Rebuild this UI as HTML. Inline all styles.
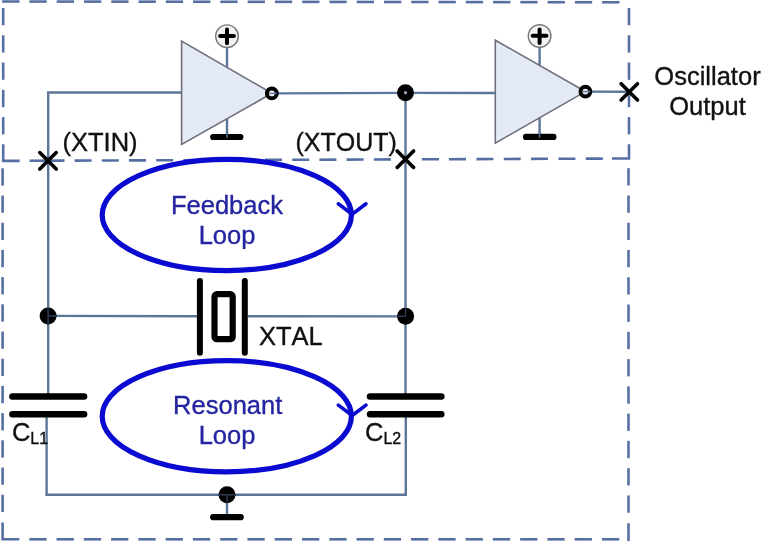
<!DOCTYPE html>
<html><head><meta charset="utf-8"><style>
html,body{margin:0;padding:0;background:#fff;}
svg{display:block;filter:blur(0.35px);} svg text{will-change:transform;} text{font-kerning:none;}
</style></head><body>
<svg width="768" height="541" viewBox="0 0 768 541">
<rect width="768" height="541" fill="#fff"/>
<line x1="2.20" y1="1.50" x2="19.50" y2="1.50" stroke="#566fa3" stroke-width="2.6" stroke-linecap="butt"/>
<line x1="29.47" y1="1.54" x2="46.77" y2="1.54" stroke="#566fa3" stroke-width="2.6" stroke-linecap="butt"/>
<line x1="56.74" y1="1.57" x2="74.04" y2="1.57" stroke="#566fa3" stroke-width="2.6" stroke-linecap="butt"/>
<line x1="84.01" y1="1.61" x2="101.31" y2="1.61" stroke="#566fa3" stroke-width="2.6" stroke-linecap="butt"/>
<line x1="111.28" y1="1.64" x2="128.58" y2="1.64" stroke="#566fa3" stroke-width="2.6" stroke-linecap="butt"/>
<line x1="138.55" y1="1.68" x2="155.85" y2="1.68" stroke="#566fa3" stroke-width="2.6" stroke-linecap="butt"/>
<line x1="165.82" y1="1.71" x2="183.12" y2="1.71" stroke="#566fa3" stroke-width="2.6" stroke-linecap="butt"/>
<line x1="193.09" y1="1.75" x2="210.39" y2="1.75" stroke="#566fa3" stroke-width="2.6" stroke-linecap="butt"/>
<line x1="220.36" y1="1.78" x2="237.66" y2="1.78" stroke="#566fa3" stroke-width="2.6" stroke-linecap="butt"/>
<line x1="247.63" y1="1.81" x2="264.93" y2="1.81" stroke="#566fa3" stroke-width="2.6" stroke-linecap="butt"/>
<line x1="274.90" y1="1.85" x2="292.20" y2="1.85" stroke="#566fa3" stroke-width="2.6" stroke-linecap="butt"/>
<line x1="302.17" y1="1.88" x2="319.47" y2="1.88" stroke="#566fa3" stroke-width="2.6" stroke-linecap="butt"/>
<line x1="329.44" y1="1.92" x2="346.74" y2="1.92" stroke="#566fa3" stroke-width="2.6" stroke-linecap="butt"/>
<line x1="356.71" y1="1.95" x2="374.01" y2="1.95" stroke="#566fa3" stroke-width="2.6" stroke-linecap="butt"/>
<line x1="383.98" y1="1.99" x2="401.28" y2="1.99" stroke="#566fa3" stroke-width="2.6" stroke-linecap="butt"/>
<line x1="411.25" y1="2.02" x2="428.55" y2="2.02" stroke="#566fa3" stroke-width="2.6" stroke-linecap="butt"/>
<line x1="438.52" y1="2.06" x2="455.82" y2="2.06" stroke="#566fa3" stroke-width="2.6" stroke-linecap="butt"/>
<line x1="465.79" y1="2.09" x2="483.09" y2="2.09" stroke="#566fa3" stroke-width="2.6" stroke-linecap="butt"/>
<line x1="493.06" y1="2.13" x2="510.36" y2="2.13" stroke="#566fa3" stroke-width="2.6" stroke-linecap="butt"/>
<line x1="520.33" y1="2.16" x2="537.63" y2="2.16" stroke="#566fa3" stroke-width="2.6" stroke-linecap="butt"/>
<line x1="547.60" y1="2.20" x2="564.90" y2="2.20" stroke="#566fa3" stroke-width="2.6" stroke-linecap="butt"/>
<line x1="574.87" y1="2.23" x2="592.17" y2="2.23" stroke="#566fa3" stroke-width="2.6" stroke-linecap="butt"/>
<line x1="602.14" y1="2.27" x2="619.44" y2="2.27" stroke="#566fa3" stroke-width="2.6" stroke-linecap="butt"/>
<line x1="3.20" y1="8.00" x2="3.20" y2="25.30" stroke="#566fa3" stroke-width="2.6" stroke-linecap="butt"/>
<line x1="3.20" y1="35.27" x2="3.20" y2="52.57" stroke="#566fa3" stroke-width="2.6" stroke-linecap="butt"/>
<line x1="3.20" y1="62.54" x2="3.20" y2="79.84" stroke="#566fa3" stroke-width="2.6" stroke-linecap="butt"/>
<line x1="3.20" y1="89.81" x2="3.20" y2="107.11" stroke="#566fa3" stroke-width="2.6" stroke-linecap="butt"/>
<line x1="3.20" y1="117.08" x2="3.20" y2="134.38" stroke="#566fa3" stroke-width="2.6" stroke-linecap="butt"/>
<polyline points="3.20,144.30 3.20,160.90 19.70,160.90" fill="none" stroke="#566fa3" stroke-width="2.6" stroke-linejoin="miter" stroke-linecap="butt"/>
<line x1="629.00" y1="8.00" x2="629.00" y2="25.30" stroke="#566fa3" stroke-width="2.6" stroke-linecap="butt"/>
<line x1="629.00" y1="35.27" x2="629.00" y2="52.57" stroke="#566fa3" stroke-width="2.6" stroke-linecap="butt"/>
<line x1="629.00" y1="62.54" x2="629.00" y2="79.84" stroke="#566fa3" stroke-width="2.6" stroke-linecap="butt"/>
<line x1="629.00" y1="89.81" x2="629.00" y2="107.11" stroke="#566fa3" stroke-width="2.6" stroke-linecap="butt"/>
<line x1="629.00" y1="117.08" x2="629.00" y2="134.38" stroke="#566fa3" stroke-width="2.6" stroke-linecap="butt"/>
<polyline points="612.00,158.50 629.00,158.50 629.00,144.30" fill="none" stroke="#566fa3" stroke-width="2.6" stroke-linejoin="miter" stroke-linecap="butt"/>
<line x1="29.60" y1="160.80" x2="64.50" y2="160.66" stroke="#566fa3" stroke-width="2.6" stroke-linecap="butt"/>
<line x1="74.60" y1="160.63" x2="91.60" y2="160.56" stroke="#566fa3" stroke-width="2.6" stroke-linecap="butt"/>
<line x1="101.80" y1="160.52" x2="118.80" y2="160.46" stroke="#566fa3" stroke-width="2.6" stroke-linecap="butt"/>
<line x1="129.00" y1="160.42" x2="146.00" y2="160.35" stroke="#566fa3" stroke-width="2.6" stroke-linecap="butt"/>
<line x1="156.20" y1="160.31" x2="173.20" y2="160.25" stroke="#566fa3" stroke-width="2.6" stroke-linecap="butt"/>
<line x1="183.40" y1="160.21" x2="200.40" y2="160.14" stroke="#566fa3" stroke-width="2.6" stroke-linecap="butt"/>
<line x1="210.60" y1="160.10" x2="227.60" y2="160.04" stroke="#566fa3" stroke-width="2.6" stroke-linecap="butt"/>
<line x1="237.80" y1="160.00" x2="254.80" y2="159.93" stroke="#566fa3" stroke-width="2.6" stroke-linecap="butt"/>
<line x1="265.00" y1="159.90" x2="282.00" y2="159.83" stroke="#566fa3" stroke-width="2.6" stroke-linecap="butt"/>
<line x1="292.20" y1="159.79" x2="309.20" y2="159.73" stroke="#566fa3" stroke-width="2.6" stroke-linecap="butt"/>
<line x1="319.40" y1="159.69" x2="336.40" y2="159.62" stroke="#566fa3" stroke-width="2.6" stroke-linecap="butt"/>
<line x1="346.60" y1="159.58" x2="363.60" y2="159.52" stroke="#566fa3" stroke-width="2.6" stroke-linecap="butt"/>
<line x1="373.80" y1="159.48" x2="390.80" y2="159.41" stroke="#566fa3" stroke-width="2.6" stroke-linecap="butt"/>
<line x1="421.90" y1="159.29" x2="439.00" y2="159.23" stroke="#566fa3" stroke-width="2.6" stroke-linecap="butt"/>
<line x1="448.90" y1="159.19" x2="466.00" y2="159.12" stroke="#566fa3" stroke-width="2.6" stroke-linecap="butt"/>
<line x1="476.50" y1="159.08" x2="493.40" y2="159.02" stroke="#566fa3" stroke-width="2.6" stroke-linecap="butt"/>
<line x1="503.80" y1="158.98" x2="520.70" y2="158.92" stroke="#566fa3" stroke-width="2.6" stroke-linecap="butt"/>
<line x1="531.10" y1="158.88" x2="548.00" y2="158.81" stroke="#566fa3" stroke-width="2.6" stroke-linecap="butt"/>
<line x1="558.50" y1="158.77" x2="575.40" y2="158.71" stroke="#566fa3" stroke-width="2.6" stroke-linecap="butt"/>
<line x1="585.80" y1="158.67" x2="602.80" y2="158.60" stroke="#566fa3" stroke-width="2.6" stroke-linecap="butt"/>
<line x1="2.60" y1="168.30" x2="2.60" y2="185.60" stroke="#566fa3" stroke-width="2.6" stroke-linecap="butt"/>
<line x1="2.60" y1="195.50" x2="2.60" y2="212.80" stroke="#566fa3" stroke-width="2.6" stroke-linecap="butt"/>
<line x1="2.60" y1="222.70" x2="2.60" y2="240.00" stroke="#566fa3" stroke-width="2.6" stroke-linecap="butt"/>
<line x1="2.60" y1="249.90" x2="2.60" y2="267.20" stroke="#566fa3" stroke-width="2.6" stroke-linecap="butt"/>
<line x1="2.60" y1="277.10" x2="2.60" y2="294.40" stroke="#566fa3" stroke-width="2.6" stroke-linecap="butt"/>
<line x1="2.60" y1="304.30" x2="2.60" y2="321.60" stroke="#566fa3" stroke-width="2.6" stroke-linecap="butt"/>
<line x1="2.60" y1="331.50" x2="2.60" y2="348.80" stroke="#566fa3" stroke-width="2.6" stroke-linecap="butt"/>
<line x1="2.60" y1="358.70" x2="2.60" y2="376.00" stroke="#566fa3" stroke-width="2.6" stroke-linecap="butt"/>
<line x1="2.60" y1="385.90" x2="2.60" y2="403.20" stroke="#566fa3" stroke-width="2.6" stroke-linecap="butt"/>
<line x1="2.60" y1="413.10" x2="2.60" y2="430.40" stroke="#566fa3" stroke-width="2.6" stroke-linecap="butt"/>
<line x1="2.60" y1="440.30" x2="2.60" y2="457.60" stroke="#566fa3" stroke-width="2.6" stroke-linecap="butt"/>
<line x1="2.60" y1="467.50" x2="2.60" y2="484.80" stroke="#566fa3" stroke-width="2.6" stroke-linecap="butt"/>
<line x1="2.60" y1="494.70" x2="2.60" y2="512.00" stroke="#566fa3" stroke-width="2.6" stroke-linecap="butt"/>
<polyline points="2.60,522.50 2.60,539.30 19.30,539.30" fill="none" stroke="#566fa3" stroke-width="2.6" stroke-linejoin="miter" stroke-linecap="butt"/>
<line x1="628.50" y1="168.20" x2="628.50" y2="185.50" stroke="#566fa3" stroke-width="2.6" stroke-linecap="butt"/>
<line x1="628.50" y1="195.47" x2="628.50" y2="212.77" stroke="#566fa3" stroke-width="2.6" stroke-linecap="butt"/>
<line x1="628.50" y1="222.74" x2="628.50" y2="240.04" stroke="#566fa3" stroke-width="2.6" stroke-linecap="butt"/>
<line x1="628.50" y1="250.01" x2="628.50" y2="267.31" stroke="#566fa3" stroke-width="2.6" stroke-linecap="butt"/>
<line x1="628.50" y1="277.28" x2="628.50" y2="294.58" stroke="#566fa3" stroke-width="2.6" stroke-linecap="butt"/>
<line x1="628.50" y1="304.55" x2="628.50" y2="321.85" stroke="#566fa3" stroke-width="2.6" stroke-linecap="butt"/>
<line x1="628.50" y1="331.82" x2="628.50" y2="349.12" stroke="#566fa3" stroke-width="2.6" stroke-linecap="butt"/>
<line x1="628.50" y1="359.09" x2="628.50" y2="376.39" stroke="#566fa3" stroke-width="2.6" stroke-linecap="butt"/>
<line x1="628.50" y1="386.36" x2="628.50" y2="403.66" stroke="#566fa3" stroke-width="2.6" stroke-linecap="butt"/>
<line x1="628.50" y1="413.63" x2="628.50" y2="430.93" stroke="#566fa3" stroke-width="2.6" stroke-linecap="butt"/>
<line x1="628.50" y1="440.90" x2="628.50" y2="458.20" stroke="#566fa3" stroke-width="2.6" stroke-linecap="butt"/>
<line x1="628.50" y1="468.17" x2="628.50" y2="485.47" stroke="#566fa3" stroke-width="2.6" stroke-linecap="butt"/>
<line x1="628.50" y1="495.44" x2="628.50" y2="512.74" stroke="#566fa3" stroke-width="2.6" stroke-linecap="butt"/>
<line x1="628.50" y1="523.30" x2="628.50" y2="541.00" stroke="#566fa3" stroke-width="2.6" stroke-linecap="butt"/>
<line x1="29.27" y1="539.30" x2="46.57" y2="539.30" stroke="#566fa3" stroke-width="2.6" stroke-linecap="butt"/>
<line x1="56.54" y1="539.30" x2="73.84" y2="539.30" stroke="#566fa3" stroke-width="2.6" stroke-linecap="butt"/>
<line x1="83.81" y1="539.30" x2="101.11" y2="539.30" stroke="#566fa3" stroke-width="2.6" stroke-linecap="butt"/>
<line x1="111.08" y1="539.30" x2="128.38" y2="539.30" stroke="#566fa3" stroke-width="2.6" stroke-linecap="butt"/>
<line x1="138.35" y1="539.30" x2="155.65" y2="539.30" stroke="#566fa3" stroke-width="2.6" stroke-linecap="butt"/>
<line x1="165.62" y1="539.30" x2="182.92" y2="539.30" stroke="#566fa3" stroke-width="2.6" stroke-linecap="butt"/>
<line x1="192.89" y1="539.30" x2="210.19" y2="539.30" stroke="#566fa3" stroke-width="2.6" stroke-linecap="butt"/>
<line x1="220.16" y1="539.30" x2="237.46" y2="539.30" stroke="#566fa3" stroke-width="2.6" stroke-linecap="butt"/>
<line x1="247.43" y1="539.30" x2="264.73" y2="539.30" stroke="#566fa3" stroke-width="2.6" stroke-linecap="butt"/>
<line x1="274.70" y1="539.30" x2="292.00" y2="539.30" stroke="#566fa3" stroke-width="2.6" stroke-linecap="butt"/>
<line x1="301.97" y1="539.30" x2="319.27" y2="539.30" stroke="#566fa3" stroke-width="2.6" stroke-linecap="butt"/>
<line x1="329.24" y1="539.30" x2="346.54" y2="539.30" stroke="#566fa3" stroke-width="2.6" stroke-linecap="butt"/>
<line x1="356.51" y1="539.30" x2="373.81" y2="539.30" stroke="#566fa3" stroke-width="2.6" stroke-linecap="butt"/>
<line x1="383.78" y1="539.30" x2="401.08" y2="539.30" stroke="#566fa3" stroke-width="2.6" stroke-linecap="butt"/>
<line x1="411.05" y1="539.30" x2="428.35" y2="539.30" stroke="#566fa3" stroke-width="2.6" stroke-linecap="butt"/>
<line x1="438.32" y1="539.30" x2="455.62" y2="539.30" stroke="#566fa3" stroke-width="2.6" stroke-linecap="butt"/>
<line x1="465.59" y1="539.30" x2="482.89" y2="539.30" stroke="#566fa3" stroke-width="2.6" stroke-linecap="butt"/>
<line x1="492.86" y1="539.30" x2="510.16" y2="539.30" stroke="#566fa3" stroke-width="2.6" stroke-linecap="butt"/>
<line x1="520.13" y1="539.30" x2="537.43" y2="539.30" stroke="#566fa3" stroke-width="2.6" stroke-linecap="butt"/>
<line x1="547.40" y1="539.30" x2="564.70" y2="539.30" stroke="#566fa3" stroke-width="2.6" stroke-linecap="butt"/>
<line x1="574.67" y1="539.30" x2="591.97" y2="539.30" stroke="#566fa3" stroke-width="2.6" stroke-linecap="butt"/>
<line x1="601.94" y1="539.30" x2="619.24" y2="539.30" stroke="#566fa3" stroke-width="2.6" stroke-linecap="butt"/>
<polyline points="181.60,92.50 48.20,92.50 48.20,396.60" fill="none" stroke="#5b7699" stroke-width="2.4" stroke-linejoin="miter" stroke-linecap="butt"/>
<line x1="46.60" y1="414.30" x2="46.60" y2="494.80" stroke="#5b7699" stroke-width="2.4" stroke-linecap="butt"/>
<polyline points="45.40,494.80 405.80,494.80 405.80,414.30" fill="none" stroke="#5b7699" stroke-width="2.4" stroke-linejoin="miter" stroke-linecap="butt"/>
<line x1="405.50" y1="396.60" x2="405.50" y2="92.80" stroke="#5b7699" stroke-width="2.4" stroke-linecap="butt"/>
<line x1="276.50" y1="93.40" x2="405.50" y2="92.90" stroke="#5b7699" stroke-width="2.4" stroke-linecap="butt"/>
<line x1="405.50" y1="92.90" x2="495.30" y2="93.00" stroke="#5b7699" stroke-width="2.4" stroke-linecap="butt"/>
<line x1="48.20" y1="315.90" x2="197.00" y2="316.20" stroke="#5b7699" stroke-width="2.4" stroke-linecap="butt"/>
<line x1="247.80" y1="316.20" x2="405.50" y2="316.40" stroke="#5b7699" stroke-width="2.4" stroke-linecap="butt"/>
<line x1="590.00" y1="91.60" x2="629.00" y2="91.80" stroke="#5b7699" stroke-width="2.4" stroke-linecap="butt"/>
<line x1="227.00" y1="494.80" x2="227.00" y2="517.00" stroke="#5b7699" stroke-width="2.4" stroke-linecap="butt"/>
<line x1="227.00" y1="47.50" x2="227.00" y2="67.32" stroke="#5b7699" stroke-width="2.4" stroke-linecap="butt"/>
<line x1="227.00" y1="118.74" x2="227.00" y2="137.00" stroke="#5b7699" stroke-width="2.4" stroke-linecap="butt"/>
<polygon points="181.6,41.1 181.6,144.4 272.0,93.3" fill="#e3e9f5" stroke="#6e6e7c" stroke-width="1.6" stroke-linejoin="miter"/>
<circle cx="271.8" cy="93.4" r="4.9" fill="#eef0f6" stroke="#000" stroke-width="4"/>
<circle cx="227.0" cy="36.2" r="11.3" fill="#f2f3f7" stroke="#777" stroke-width="1.4"/>
<line x1="220.10" y1="35.90" x2="233.90" y2="35.90" stroke="#000" stroke-width="4.0" stroke-linecap="round"/>
<line x1="227.00" y1="29.60" x2="227.00" y2="43.20" stroke="#000" stroke-width="4.0" stroke-linecap="round"/>
<line x1="213.20" y1="137.00" x2="240.40" y2="137.00" stroke="#000" stroke-width="6.2" stroke-linecap="round"/>
<line x1="227.00" y1="131.00" x2="227.00" y2="138.00" stroke="#5b7699" stroke-width="1.4" stroke-linecap="butt"/>
<line x1="269.20" y1="93.40" x2="276.70" y2="93.40" stroke="#6a7fa0" stroke-width="1.6" stroke-linecap="butt"/>
<line x1="539.60" y1="47.30" x2="539.60" y2="65.47" stroke="#5b7699" stroke-width="2.4" stroke-linecap="butt"/>
<line x1="539.60" y1="117.78" x2="539.60" y2="136.90" stroke="#5b7699" stroke-width="2.4" stroke-linecap="butt"/>
<polygon points="495.3,40.2 495.3,143.1 585.4,91.6" fill="#e3e9f5" stroke="#6e6e7c" stroke-width="1.6" stroke-linejoin="miter"/>
<circle cx="585.4" cy="91.6" r="4.9" fill="#eef0f6" stroke="#000" stroke-width="4"/>
<circle cx="539.6" cy="36.0" r="11.3" fill="#f2f3f7" stroke="#777" stroke-width="1.4"/>
<line x1="532.70" y1="35.70" x2="546.50" y2="35.70" stroke="#000" stroke-width="4.0" stroke-linecap="round"/>
<line x1="539.60" y1="29.40" x2="539.60" y2="43.00" stroke="#000" stroke-width="4.0" stroke-linecap="round"/>
<line x1="526.00" y1="136.90" x2="553.40" y2="136.90" stroke="#000" stroke-width="6.2" stroke-linecap="round"/>
<line x1="539.60" y1="130.90" x2="539.60" y2="137.90" stroke="#5b7699" stroke-width="1.4" stroke-linecap="butt"/>
<line x1="582.80" y1="91.60" x2="590.30" y2="91.60" stroke="#6a7fa0" stroke-width="1.6" stroke-linecap="butt"/>
<circle cx="405.5" cy="92.7" r="8.5" fill="#000"/>
<circle cx="48.1" cy="315.9" r="8.5" fill="#000"/>
<circle cx="405.6" cy="316.3" r="8.5" fill="#000"/>
<circle cx="227.0" cy="494.8" r="8.5" fill="#000"/>
<line x1="48.10" y1="308.00" x2="48.10" y2="323.90" stroke="#34405c" stroke-width="1.3" stroke-linecap="butt"/>
<line x1="48.10" y1="315.90" x2="56.00" y2="316.00" stroke="#34405c" stroke-width="1.3" stroke-linecap="butt"/>
<line x1="405.60" y1="308.00" x2="405.60" y2="316.30" stroke="#34405c" stroke-width="1.3" stroke-linecap="butt"/>
<line x1="397.60" y1="316.30" x2="405.60" y2="316.30" stroke="#34405c" stroke-width="1.3" stroke-linecap="butt"/>
<line x1="219.00" y1="494.80" x2="235.00" y2="494.80" stroke="#34405c" stroke-width="1.3" stroke-linecap="butt"/>
<line x1="227.00" y1="494.80" x2="227.00" y2="502.60" stroke="#34405c" stroke-width="1.3" stroke-linecap="butt"/>
<circle cx="405.5" cy="92.7" r="1.6" fill="#9aa3bb"/>
<line x1="12.40" y1="396.60" x2="84.10" y2="396.60" stroke="#000" stroke-width="6.5" stroke-linecap="round"/>
<line x1="12.40" y1="414.30" x2="84.10" y2="414.30" stroke="#000" stroke-width="6.5" stroke-linecap="round"/>
<line x1="370.00" y1="396.60" x2="441.30" y2="396.60" stroke="#000" stroke-width="6.5" stroke-linecap="round"/>
<line x1="370.00" y1="414.30" x2="441.30" y2="414.30" stroke="#000" stroke-width="6.5" stroke-linecap="round"/>
<line x1="213.20" y1="517.20" x2="240.70" y2="517.20" stroke="#000" stroke-width="6.2" stroke-linecap="round"/>
<line x1="199.90" y1="281.00" x2="199.90" y2="352.70" stroke="#000" stroke-width="6.0" stroke-linecap="round"/>
<line x1="244.80" y1="281.00" x2="244.80" y2="352.70" stroke="#000" stroke-width="6.0" stroke-linecap="round"/>
<rect x="214.5" y="294.2" width="18.2" height="45" rx="2.5" fill="none" stroke="#000" stroke-width="6.2"/>
<ellipse cx="226.8" cy="215.0" rx="124.6" ry="55.6" fill="none" stroke="#0a0ad0" stroke-width="5.2"/>
<polyline points="338.3,203.8 352.2,214.2 366.0,203.8" fill="none" stroke="#0a0ad0" stroke-width="3.6" stroke-linecap="round" stroke-linejoin="round"/>
<ellipse cx="226.8" cy="416.3" rx="124.6" ry="55.6" fill="none" stroke="#0a0ad0" stroke-width="5.2"/>
<polyline points="338.3,405.1 352.2,415.5 366.0,405.1" fill="none" stroke="#0a0ad0" stroke-width="3.6" stroke-linecap="round" stroke-linejoin="round"/>
<line x1="39.80" y1="152.60" x2="56.20" y2="169.00" stroke="#000" stroke-width="3.6" stroke-linecap="round"/>
<line x1="39.80" y1="169.00" x2="56.20" y2="152.60" stroke="#000" stroke-width="3.6" stroke-linecap="round"/>
<line x1="397.20" y1="151.00" x2="413.60" y2="167.40" stroke="#000" stroke-width="3.6" stroke-linecap="round"/>
<line x1="397.20" y1="167.40" x2="413.60" y2="151.00" stroke="#000" stroke-width="3.6" stroke-linecap="round"/>
<line x1="621.10" y1="83.70" x2="637.50" y2="100.10" stroke="#000" stroke-width="3.6" stroke-linecap="round"/>
<line x1="621.10" y1="100.10" x2="637.50" y2="83.70" stroke="#000" stroke-width="3.6" stroke-linecap="round"/>

<g font-family="Liberation Sans, sans-serif" font-size="25.5" fill="#111" stroke="#111" stroke-width="0.35">
<text x="62.5" y="150.7">(XTIN)</text>
<text x="295.5" y="150.8" font-size="25">(XTOUT)</text>
<text x="707.5" y="85.2" text-anchor="middle">Oscillator</text>
<text x="707.5" y="115.2" text-anchor="middle">Output</text>
<text x="259" y="345">XTAL</text>
<text x="11.9" y="440.7">C<tspan font-size="16" dy="2.9">L1</tspan></text>
<text x="365.0" y="440.7">C<tspan font-size="16" dy="2.9">L2</tspan></text>
</g>
<g font-family="Liberation Sans, sans-serif" font-size="25.5" fill="#2424a0" stroke="#2424a0" stroke-width="0.35" text-anchor="middle">
<text x="227" y="213.5">Feedback</text>
<text x="227" y="243.6">Loop</text>
<text x="227.7" y="414.3">Resonant</text>
<text x="227" y="443.9">Loop</text>
</g>

</svg>
</body></html>
